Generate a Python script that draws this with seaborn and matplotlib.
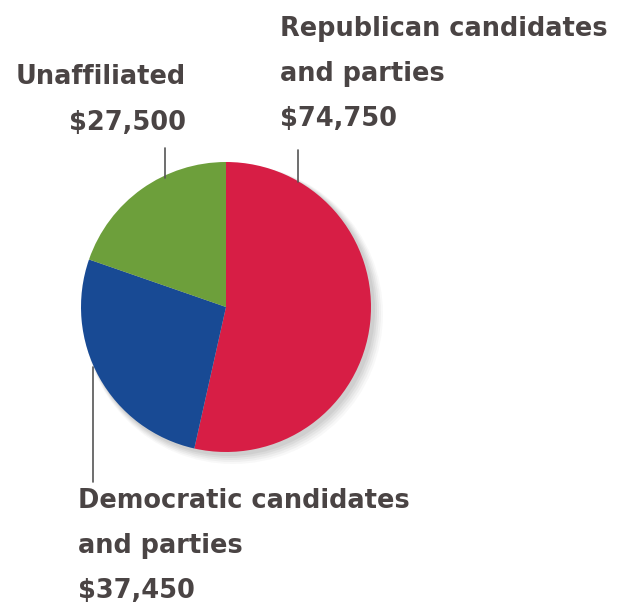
import matplotlib.pyplot as plt
import seaborn as sns
from matplotlib import font_manager
from matplotlib.patches import Circle

# contributions by recipient
groups = ["Republican candidates\nand parties", "Democratic candidates\nand parties", "Unaffiliated"]
amounts = [74750, 37450, 27500]
colors = ["#d71e45", "#184a94", "#6d9f3b"]

sns.set_theme(style="white")
names = {f.name for f in font_manager.fontManager.ttflist}
narrow = [n for n in ["Liberation Sans Narrow", "DejaVu Sans Condensed"] if n in names]
plt.rcParams["font.family"] = narrow + ["DejaVu Sans"]
text_color = "#4a4444"

fig = plt.figure(figsize=(6.2, 6.16), dpi=100)
ax = fig.add_axes([0, 0, 1, 1])

cx, cy, r = 226, 307, 145

# soft shadow to the lower right
for i, a in enumerate([0.04, 0.05, 0.06, 0.07, 0.08]):
    ax.add_patch(Circle((cx + 7 - i, -cy - 7 + i), r + 5 - i, color="#555555", alpha=a, lw=0, zorder=1))

wedges, _ = ax.pie(
    amounts,
    colors=colors,
    startangle=90,
    counterclock=False,
    center=(cx, -cy),
    radius=r,
    frame=True,
    wedgeprops={"linewidth": 0},
)
for w in wedges:
    w.set_zorder(2)
ax.set_xlim(0, 620)
ax.set_ylim(-616, 0)
ax.set_aspect("equal")
ax.axis("off")

labels = [f"{g}\n${v:,}" for g, v in zip(groups, amounts)]
style = dict(fontsize=20, fontweight="bold", color=text_color, linespacing=1.95)
t_rep = ax.text(280, -74, labels[0], ha="left", va="center", **style)
t_una = ax.text(186, -100, labels[2], ha="right", va="center", multialignment="right", **style)
t_dem = ax.text(78, -546, labels[1], ha="left", va="center", **style)

# fit the long label to the width it has in the original
fig.canvas.draw()
w = t_rep.get_window_extent().width
fs = 20 * 328 / w
for t in (t_rep, t_una, t_dem):
    t.set_fontsize(fs)

# leader lines
ax.plot([298, 298], [-150, -182], color="#555555", lw=1.2, zorder=3)
ax.plot([165, 165], [-148, -178], color="#555555", lw=1.2, zorder=3)
ax.plot([93, 93], [-367, -482], color="#555555", lw=1.2, zorder=3)

fig.savefig("out.png", dpi=100, facecolor="white")
